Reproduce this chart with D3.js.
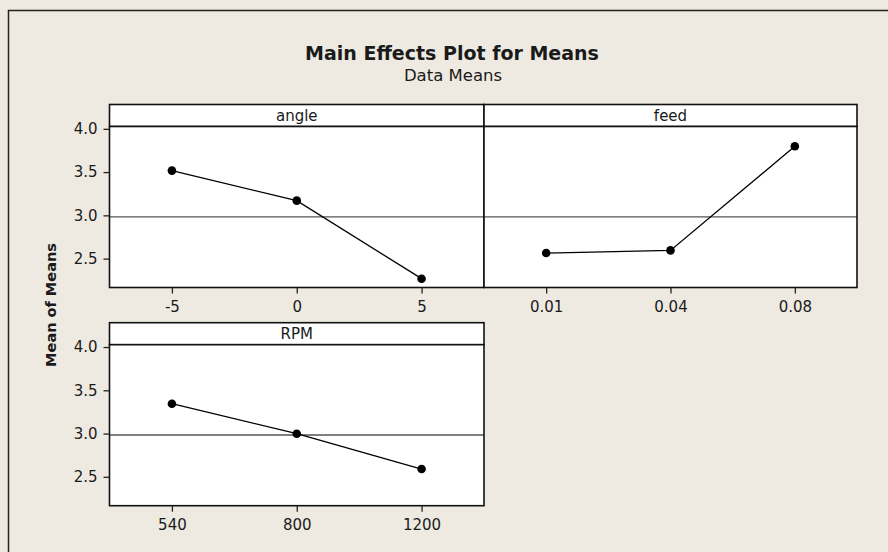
<!DOCTYPE html>
<html>
<head>
<meta charset="utf-8">
<script src="https://cdn.jsdelivr.net/npm/d3@7"></script>
<style>
  html, body { margin: 0; padding: 0; background: #eeeae1; }
  svg { display: block; }
  text { font-family: "DejaVu Sans", Verdana, sans-serif; fill: #1a1a1a; }
</style>
</head>
<body>
<div id="chart"></div>
<script>
// Data
const factors = ['angle', 'feed', 'RPM'];
const angleLevels = ['-5', '0', '5'];
const angleMeans = [3.517, 3.17, 2.268];
const feedLevels = ['0.01', '0.04', '0.08'];
const feedMeans = [2.564, 2.595, 3.798];
const rpmLevels = ['540', '800', '1200'];
const rpmMeans = [3.345, 2.998, 2.59];
const yTicks = [2.5, 3.0, 3.5, 4.0];
const grandMean = 2.983;

const width = 888, height = 552;

const panels = [
  { name: factors[0], levels: angleLevels, means: angleMeans, col: 0, row: 0 },
  { name: factors[1], levels: feedLevels, means: feedMeans, col: 1, row: 0 },
  { name: factors[2], levels: rpmLevels, means: rpmMeans, col: 0, row: 1 }
];

const colX = [109.5, 484];
const colW = [374.5, 373];
const rowTop = [104.5, 322.7];
const stripH = 22;
const plotH = 161;

const svg = d3.select('#chart')
  .append('svg')
  .attr('width', width)
  .attr('height', height);

// background + outer frame
svg.append('rect')
  .attr('width', width).attr('height', height)
  .attr('fill', '#eeeae1');
svg.append('rect')
  .attr('x', 8.5).attr('y', 10.5)
  .attr('width', 920).attr('height', 600)
  .attr('fill', 'none')
  .attr('stroke', '#222')
  .attr('stroke-width', 1.5);

// titles
svg.append('text')
  .attr('x', 452).attr('y', 60)
  .attr('text-anchor', 'middle')
  .style('font-size', '19px')
  .style('font-weight', 'bold')
  .text('Main Effects Plot for Means');
svg.append('text')
  .attr('x', 453).attr('y', 81)
  .attr('text-anchor', 'middle')
  .style('font-size', '16.5px')
  .text('Data Means');

svg.append('text')
  .attr('transform', 'translate(55.5,305) rotate(-90)')
  .attr('text-anchor', 'middle')
  .style('font-size', '14.5px')
  .style('font-weight', 'bold')
  .text('Mean of Means');

const y = d3.scaleLinear().domain([2.166, 4.027]).range([plotH, 0]);

panels.forEach(p => {
  const x0 = colX[p.col];
  const w = colW[p.col];
  const top = rowTop[p.row];
  const g = svg.append('g').attr('transform', `translate(${x0},${top})`);

  // strip
  g.append('rect')
    .attr('width', w).attr('height', stripH)
    .attr('fill', '#fff')
    .attr('stroke', '#111').attr('stroke-width', 1.6);
  g.append('text')
    .attr('x', w / 2).attr('y', stripH / 2)
    .attr('dy', '0.35em')
    .attr('text-anchor', 'middle')
    .style('font-size', '15px')
    .text(p.name);

  const plot = g.append('g').attr('transform', `translate(0,${stripH})`);
  plot.append('rect')
    .attr('width', w).attr('height', plotH)
    .attr('fill', '#fff');

  const x = d3.scalePoint().domain(p.levels).range([0, w]).padding(0.5);

  // reference line at grand mean
  plot.append('line')
    .attr('x1', 0).attr('x2', w)
    .attr('y1', y(grandMean)).attr('y2', y(grandMean))
    .attr('stroke', '#555').attr('stroke-width', 1.3);

  const pts = p.levels.map((l, i) => [x(l), y(p.means[i])]);
  plot.append('path')
    .attr('d', d3.line()(pts))
    .attr('fill', 'none')
    .attr('stroke', '#000')
    .attr('stroke-width', 1.3);
  plot.selectAll('circle.pt')
    .data(pts)
    .join('circle')
    .attr('class', 'pt')
    .attr('cx', d => d[0]).attr('cy', d => d[1])
    .attr('r', 4.3)
    .attr('fill', '#000');

  plot.append('rect')
    .attr('width', w).attr('height', plotH)
    .attr('fill', 'none')
    .attr('stroke', '#111').attr('stroke-width', 1.6);

  // x axis
  const xAxis = plot.append('g')
    .attr('transform', `translate(0,${plotH})`)
    .call(d3.axisBottom(x).tickSize(6).tickPadding(8));
  xAxis.select('.domain').remove();
  xAxis.selectAll('line').attr('stroke', '#222').attr('stroke-width', 1.3);
  xAxis.selectAll('text')
    .style('font-family', '"DejaVu Sans", Verdana, sans-serif')
    .style('font-size', '15px')
    .attr('fill', '#1a1a1a');

  // y axis only on the left column
  if (p.col === 0) {
    const yAxis = plot.append('g')
      .call(d3.axisLeft(y).tickValues(yTicks).tickFormat(d3.format('.1f')).tickSize(6).tickPadding(6));
    yAxis.select('.domain').remove();
    yAxis.selectAll('line').attr('stroke', '#222').attr('stroke-width', 1.3);
    yAxis.selectAll('text')
      .style('font-family', '"DejaVu Sans", Verdana, sans-serif')
      .style('font-size', '15px')
      .attr('fill', '#1a1a1a');
  }
});
</script>
</body>
</html>
